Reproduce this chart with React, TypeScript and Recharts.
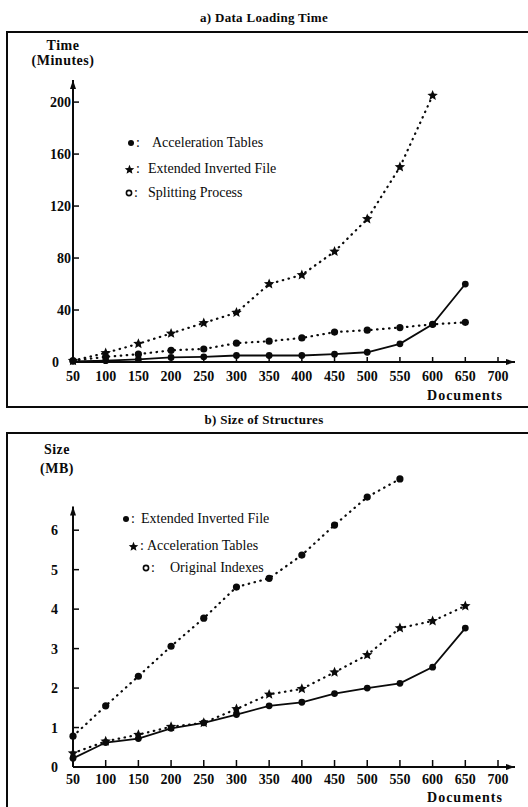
import React from 'react';
import { LineChart, Line, XAxis, YAxis, ReferenceLine, ReferenceDot } from 'recharts';

// ---------- data ----------
const documents = [50, 100, 150, 200, 250, 300, 350, 400, 450, 500, 550, 600, 650];
const xTicks = [50, 100, 150, 200, 250, 300, 350, 400, 450, 500, 550, 600, 650, 700];

// a) Data Loading Time (minutes)
const loadAccelerationTables = [0.5, 1, 2, 3.5, 4, 5, 5, 5, 6, 7.5, 14, 29, 60];
const loadExtendedInvertedFile = [1, 7, 14, 22, 30, 38, 60, 67, 85, 110, 150, 205, null];
const loadSplittingProcess = [1, 4, 6, 9, 10, 14.5, 16, 18.5, 23, 24.5, 26.5, 29, 30.5];
const timeTicks = [0, 40, 80, 120, 160, 200];

// b) Size of Structures (MB)
const sizeExtendedInvertedFile = [0.22, 0.62, 0.72, 0.98, 1.12, 1.33, 1.55, 1.64, 1.86, 2.0, 2.12, 2.53, 3.52];
const sizeAccelerationTables = [0.35, 0.65, 0.82, 1.02, 1.12, 1.47, 1.84, 1.98, 2.4, 2.84, 3.52, 3.7, 4.08];
const sizeOriginalIndexes = [0.78, 1.55, 2.3, 3.06, 3.77, 4.56, 4.78, 5.37, 6.13, 6.84, 7.3, null, null];
const sizeTicks = [0, 1, 2, 3, 4, 5, 6];

const loadData = documents.map((d, i) => ({
  docs: d,
  accel: loadAccelerationTables[i],
  ext: loadExtendedInvertedFile[i],
  split: loadSplittingProcess[i],
}));

const sizeData = documents.map((d, i) => ({
  docs: d,
  ext: sizeExtendedInvertedFile[i],
  accel: sizeAccelerationTables[i],
  orig: sizeOriginalIndexes[i],
}));

// ---------- styling helpers ----------
const FONT = '"Liberation Serif", "Times New Roman", serif';
const INK = '#0a0a0a';

function starPath(cx: number, cy: number, R: number) {
  const r = R * 0.45;
  let d = '';
  for (let k = 0; k < 10; k++) {
    const rad = k % 2 === 0 ? R : r;
    const a = -Math.PI / 2 + (k * Math.PI) / 5;
    const px = cx + rad * Math.cos(a);
    const py = cy + rad * Math.sin(a);
    d += (k === 0 ? 'M' : 'L') + px.toFixed(2) + ' ' + py.toFixed(2);
  }
  return d + 'Z';
}

const starDot = (props: any) => {
  const { cx, cy, index } = props;
  if (cx == null || cy == null || isNaN(cx) || isNaN(cy)) return <g key={'s' + index} />;
  return <path key={'s' + index} d={starPath(cx, cy, 5.5)} fill={INK} />;
};

const circleDot = (r: number) => (props: any) => {
  const { cx, cy, index } = props;
  if (cx == null || cy == null || isNaN(cx) || isNaN(cy)) return <g key={'c' + index} />;
  return <circle key={'c' + index} cx={cx} cy={cy} r={r} fill={INK} />;
};

const makeXTick = (labelDy: number, tickLen: number) => (props: any) => {
  const { x, y, payload } = props;
  return (
    <g>
      <line x1={x} y1={y} x2={x} y2={y - tickLen} stroke={INK} strokeWidth={1.5} />
      <text x={x} y={y + labelDy} textAnchor="middle" fontFamily={FONT} fontWeight="bold" fontSize={14} fill={INK}>
        {payload.value}
      </text>
    </g>
  );
};

const makeYTick = (gap: number, zeroGap: number) => (props: any) => {
  const { x, y, payload } = props;
  const g = payload.value === 0 ? zeroGap : gap;
  return (
    <g>
      <line x1={x} y1={y} x2={x + 6} y2={y} stroke={INK} strokeWidth={1.5} />
      <text x={x - g} y={y + 5} textAnchor="end" fontFamily={FONT} fontWeight="bold" fontSize={14} fill={INK}>
        {payload.value}
      </text>
    </g>
  );
};

const arrowUp = (props: any) => {
  const { cx, cy } = props;
  return <path d={`M${cx} ${cy} L${cx - 3} ${cy + 9} L${cx + 3} ${cy + 9} Z`} fill={INK} />;
};
const arrowRight = (props: any) => {
  const { cx, cy } = props;
  return <path d={`M${cx} ${cy} L${cx - 9} ${cy - 3} L${cx - 9} ${cy + 3} Z`} fill={INK} />;
};

const dotted = { strokeDasharray: '0.5 5.5', strokeLinecap: 'round' as const, strokeWidth: 2.2 };

const abs = (left: number, top: number, extra: React.CSSProperties = {}): React.CSSProperties => ({
  position: 'absolute',
  left,
  top,
  fontFamily: FONT,
  color: INK,
  whiteSpace: 'nowrap',
  ...extra,
});

function LegendRow({ left, top, marker, text, textLeft }: { left: number; top: number; marker: React.ReactNode; text: string; textLeft: number }) {
  return (
    <>
      <div style={abs(left, top - 9, { fontSize: 14, lineHeight: '18px', display: 'flex', alignItems: 'center' })}>
        {marker}
        <span style={{ marginLeft: 1 }}>:</span>
      </div>
      <div style={abs(textLeft, top - 9, { fontSize: 14, lineHeight: '18px' })}>{text}</div>
    </>
  );
}

const SvgDot = () => (
  <svg width={8} height={8} style={{ display: 'block' }}>
    <circle cx={4} cy={4} r={3} fill={INK} />
  </svg>
);
const SvgStar = () => (
  <svg width={11} height={11} style={{ display: 'block' }}>
    <path d={starPath(5.5, 5.8, 5)} fill={INK} />
  </svg>
);
const SvgO = () => (
  <svg width={8} height={8} style={{ display: 'block' }}>
    <circle cx={4} cy={4} r={2.6} fill="none" stroke={INK} strokeWidth={1.6} />
  </svg>
);

export default function App() {
  return (
    <div style={{ position: 'absolute', left: 0, top: 0, width: 528, height: 807, overflow: 'hidden', background: '#fff' }}>
      {/* ---------- panel a ---------- */}
      <div style={abs(0, 9, { width: 528, textAlign: 'center', fontSize: 13, fontWeight: 'bold', lineHeight: '18px', letterSpacing: 0.3 })}>
        a) Data Loading Time
      </div>
      <div style={{ position: 'absolute', left: 6, top: 31, width: 560, height: 373, borderLeft: `2px solid ${INK}`, borderTop: `2px solid ${INK}`, borderBottom: `2px solid ${INK}` }} />
      <div style={abs(28, 38, { width: 70, textAlign: 'center', fontSize: 14, fontWeight: 'bold', lineHeight: '15px', letterSpacing: 0.5 })}>
        Time
        <br />
        (Minutes)
      </div>

      <div style={{ position: 'absolute', left: 0, top: 0 }}>
        <LineChart width={528} height={410} data={loadData} margin={{ top: 80, right: 13, bottom: 0, left: 0 }}>
          <XAxis
            dataKey="docs"
            type="number"
            domain={[50, 726]}
            ticks={xTicks}
            interval={0}
            axisLine={false}
            tickLine={false}
            tickSize={0}
            tickMargin={0}
            height={48}
            tick={makeXTick(19, 5)}
          />
          <YAxis
            type="number"
            domain={[0, 217]}
            ticks={timeTicks}
            interval={0}
            axisLine={false}
            tickLine={false}
            tickSize={0}
            tickMargin={0}
            width={73}
            tick={makeYTick(2, 14)}
          />
          <ReferenceLine segment={[{ x: 50, y: 0 }, { x: 50, y: 217 }]} stroke={INK} strokeWidth={2} ifOverflow="visible" />
          <ReferenceLine segment={[{ x: 50, y: 0 }, { x: 726, y: 0 }]} stroke={INK} strokeWidth={2} ifOverflow="visible" />
          <ReferenceDot x={50} y={217} r={0} shape={arrowUp} ifOverflow="visible" />
          <ReferenceDot x={726} y={0} r={0} shape={arrowRight} ifOverflow="visible" />
          <Line dataKey="ext" stroke={INK} {...dotted} dot={starDot} activeDot={false} isAnimationActive={false} connectNulls={false} />
          <Line dataKey="split" stroke={INK} {...dotted} dot={circleDot(3.6)} activeDot={false} isAnimationActive={false} />
          <Line dataKey="accel" stroke={INK} strokeWidth={1.8} dot={circleDot(3.4)} activeDot={false} isAnimationActive={false} />
        </LineChart>
      </div>

      <LegendRow left={127} top={143} marker={<SvgDot />} text="Acceleration Tables" textLeft={152} />
      <LegendRow left={124} top={169} marker={<SvgStar />} text="Extended Inverted File" textLeft={148} />
      <LegendRow left={125} top={193} marker={<SvgO />} text="Splitting Process" textLeft={148} />

      <div style={abs(425, 387, { width: 80, textAlign: 'center', fontSize: 14, fontWeight: 'bold', lineHeight: '18px', letterSpacing: 1 })}>
        Documents
      </div>

      {/* ---------- panel b ---------- */}
      <div style={abs(0, 411, { width: 528, textAlign: 'center', fontSize: 13, fontWeight: 'bold', lineHeight: '18px', letterSpacing: 0.3 })}>
        b) Size of Structures
      </div>
      <div style={{ position: 'absolute', left: 6, top: 432, width: 560, height: 420, borderLeft: `2px solid ${INK}`, borderTop: `2px solid ${INK}` }} />
      <div style={abs(22, 440, { width: 70, textAlign: 'center', fontSize: 14, fontWeight: 'bold', lineHeight: '19px', letterSpacing: 0.5 })}>
        Size
        <br />
        (MB)
      </div>

      <div style={{ position: 'absolute', left: 0, top: 432 }}>
        <LineChart width={528} height={375} data={sizeData} margin={{ top: 39, right: 13, bottom: 0, left: 0 }}>
          <XAxis
            dataKey="docs"
            type="number"
            domain={[50, 726]}
            ticks={xTicks}
            interval={0}
            axisLine={false}
            tickLine={false}
            tickSize={0}
            tickMargin={0}
            height={40}
            tick={makeXTick(17, 7)}
          />
          <YAxis
            type="number"
            domain={[0, 7.5]}
            ticks={sizeTicks}
            interval={0}
            axisLine={false}
            tickLine={false}
            tickSize={0}
            tickMargin={0}
            width={73}
            tick={makeYTick(15, 15)}
          />
          <ReferenceLine segment={[{ x: 50, y: 0 }, { x: 50, y: 6.6 }]} stroke={INK} strokeWidth={2} ifOverflow="visible" />
          <ReferenceLine segment={[{ x: 50, y: 0 }, { x: 726, y: 0 }]} stroke={INK} strokeWidth={2} ifOverflow="visible" />
          <ReferenceDot x={50} y={6.6} r={0} shape={arrowUp} ifOverflow="visible" />
          <ReferenceDot x={726} y={0} r={0} shape={arrowRight} ifOverflow="visible" />
          <Line dataKey="orig" stroke={INK} {...dotted} dot={circleDot(3.6)} activeDot={false} isAnimationActive={false} />
          <Line dataKey="accel" stroke={INK} {...dotted} dot={starDot} activeDot={false} isAnimationActive={false} />
          <Line dataKey="ext" stroke={INK} strokeWidth={1.8} dot={circleDot(3.4)} activeDot={false} isAnimationActive={false} />
        </LineChart>
      </div>

      <LegendRow left={122} top={519} marker={<SvgDot />} text="Extended Inverted File" textLeft={141} />
      <LegendRow left={128} top={546} marker={<SvgStar />} text="Acceleration Tables" textLeft={147} />
      <LegendRow left={142} top={568} marker={<SvgO />} text="Original Indexes" textLeft={170} />

      <div style={abs(425, 789, { width: 80, textAlign: 'center', fontSize: 14, fontWeight: 'bold', lineHeight: '18px', letterSpacing: 1 })}>
        Documents
      </div>
    </div>
  );
}
